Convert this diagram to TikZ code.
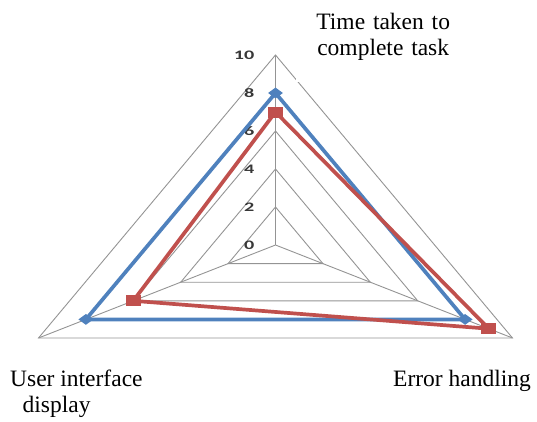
\documentclass[tikz,border=0pt]{standalone}
\usepackage{fontspec}
\setmainfont{Liberation Serif}
\newfontfamily\tickfont{Carlito}
\usetikzlibrary{calc,shapes.geometric}
\definecolor{serblue}{HTML}{4F81BD}
\definecolor{serred}{HTML}{C0504D}

\begin{document}
\begin{tikzpicture}[x=1pt,y=1pt,
    grid/.style={draw=black!42, line width=0.9pt},
    series/.style={line width=3.7pt, line join=round},
    bluemark/.style={diamond, fill=serblue, inner sep=0pt, minimum width=15pt, minimum height=11pt},
    redmark/.style={rectangle, fill=serred, inner sep=0pt, minimum width=15pt, minimum height=11pt},
    ticklbl/.style={font=\tickfont\bfseries\fontsize{13}{13}\selectfont, text=black!78, inner sep=0pt, anchor=east},
    axislbl/.style={font=\fontsize{23.5}{26.5}\selectfont, inner sep=0pt}]

    \useasboundingbox (-275.5,-176) rectangle (261.5,245);

    \coordinate (o) at (0,0);
    \coordinate (top) at (0,190);
    \coordinate (left) at (-237,-93);
    \coordinate (right) at (237,-93);

    \foreach \r in {2,4,...,10}
      \draw[grid] ($(o)!\r/10!(top)$) -- ($(o)!\r/10!(left)$) -- ($(o)!\r/10!(right)$) -- cycle;
    \draw[grid] (o) -- (top);
    \draw[grid] (o) -- (left);
    \draw[grid] (o) -- (right);

    \foreach \v in {0,2,...,10}
      \node[ticklbl] (t\v) at (-21,\v*19) {\scalebox{1.55}[1]{\v}};

    \node[axislbl, fill=white, anchor=north west, text width=134pt, align=center,
          inner xsep=20pt, inner ysep=7.5pt, text depth=45.5pt] (time) at (20.5,240)
          {Time taken to\\complete task};
    \node[axislbl, anchor=north west, align=left] (ui) at (-265.5,-124.6)
          {User interface\\\hspace*{12.5pt}display};
    \node[axislbl, anchor=base] (err) at (186.5,-141) {Error handling};

    \coordinate (b1) at ($(o)!0.8!(top)$);
    \coordinate (b2) at ($(o)!0.8!(left)$);
    \coordinate (b3) at ($(o)!0.8!(right)$);
    \coordinate (r1) at ($(o)!0.7!(top)$);
    \coordinate (r2) at ($(o)!0.6!(left)$);
    \coordinate (r3) at ($(o)!0.9!(right)$);

    \draw[series, serblue] (b1) -- (b2) -- (b3) -- cycle;
    \node[bluemark] (bm1) at (b1) {};
    \node[bluemark] (bm2) at (b2) {};
    \node[bluemark] (bm3) at (b3) {};

    \draw[series, serred] (r1) -- (r2) -- (r3) -- cycle;
    \node[redmark] (rm1) at (r1) {};
    \node[redmark] (rm2) at (r2) {};
    \node[redmark] (rm3) at (r3) {};

\end{tikzpicture}
\end{document}
